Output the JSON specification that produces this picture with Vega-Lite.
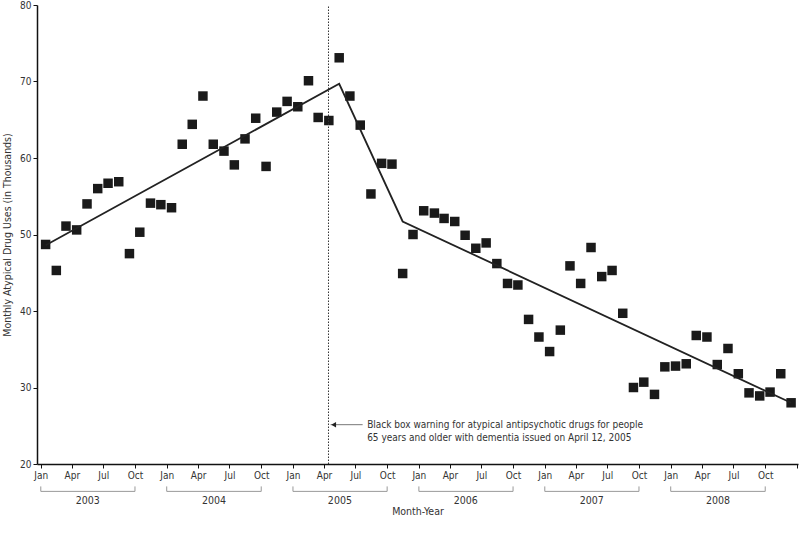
{
  "$schema": "https://vega.github.io/schema/vega-lite/v6.json",
  "autosize": "none",
  "width": 761,
  "height": 459,
  "padding": {"left": 37, "top": 5, "right": 2, "bottom": 70},
  "background": "white",
  "config": {
    "view": {"stroke": null},
    "font": "DejaVu Sans Condensed, sans-serif",
    "axis": {
      "labelFont": "DejaVu Sans Condensed, sans-serif",
      "titleFont": "DejaVu Sans Condensed, sans-serif",
      "labelFontSize": 10,
      "titleFontSize": 10.5,
      "labelColor": "#333",
      "titleColor": "#333",
      "titleFontWeight": "normal",
      "domainColor": "#111",
      "domainWidth": 1.5,
      "tickColor": "#111",
      "tickSize": 4,
      "grid": false
    }
  },
  "datasets": {
    "points": [
      {"date": "2003-01-15", "uses": 48.7}, {"date": "2003-02-15", "uses": 45.3}, {"date": "2003-03-15", "uses": 51.1}, {"date": "2003-04-15", "uses": 50.6},
      {"date": "2003-05-15", "uses": 54.0}, {"date": "2003-06-15", "uses": 56.0}, {"date": "2003-07-15", "uses": 56.7}, {"date": "2003-08-15", "uses": 56.9},
      {"date": "2003-09-15", "uses": 47.5}, {"date": "2003-10-15", "uses": 50.3}, {"date": "2003-11-15", "uses": 54.1}, {"date": "2003-12-15", "uses": 53.9},
      {"date": "2004-01-15", "uses": 53.5}, {"date": "2004-02-15", "uses": 61.8}, {"date": "2004-03-15", "uses": 64.4}, {"date": "2004-04-15", "uses": 68.1},
      {"date": "2004-05-15", "uses": 61.8}, {"date": "2004-06-15", "uses": 60.9}, {"date": "2004-07-15", "uses": 59.1}, {"date": "2004-08-15", "uses": 62.5},
      {"date": "2004-09-15", "uses": 65.2}, {"date": "2004-10-15", "uses": 58.9}, {"date": "2004-11-15", "uses": 66.0}, {"date": "2004-12-15", "uses": 67.4},
      {"date": "2005-01-15", "uses": 66.7}, {"date": "2005-02-15", "uses": 70.1}, {"date": "2005-03-15", "uses": 65.3}, {"date": "2005-04-15", "uses": 64.9},
      {"date": "2005-05-15", "uses": 73.1}, {"date": "2005-06-15", "uses": 68.1}, {"date": "2005-07-15", "uses": 64.3}, {"date": "2005-08-15", "uses": 55.3},
      {"date": "2005-09-15", "uses": 59.3}, {"date": "2005-10-15", "uses": 59.2}, {"date": "2005-11-15", "uses": 44.9}, {"date": "2005-12-15", "uses": 50.0},
      {"date": "2006-01-15", "uses": 53.1}, {"date": "2006-02-15", "uses": 52.8}, {"date": "2006-03-15", "uses": 52.1}, {"date": "2006-04-15", "uses": 51.7},
      {"date": "2006-05-15", "uses": 49.9}, {"date": "2006-06-15", "uses": 48.2}, {"date": "2006-07-15", "uses": 48.9}, {"date": "2006-08-15", "uses": 46.2},
      {"date": "2006-09-15", "uses": 43.6}, {"date": "2006-10-15", "uses": 43.4}, {"date": "2006-11-15", "uses": 38.9}, {"date": "2006-12-15", "uses": 36.6},
      {"date": "2007-01-15", "uses": 34.7}, {"date": "2007-02-15", "uses": 37.5}, {"date": "2007-03-15", "uses": 45.9}, {"date": "2007-04-15", "uses": 43.6},
      {"date": "2007-05-15", "uses": 48.3}, {"date": "2007-06-15", "uses": 44.5}, {"date": "2007-07-15", "uses": 45.3}, {"date": "2007-08-15", "uses": 39.7},
      {"date": "2007-09-15", "uses": 30.0}, {"date": "2007-10-15", "uses": 30.7}, {"date": "2007-11-15", "uses": 29.1}, {"date": "2007-12-15", "uses": 32.7},
      {"date": "2008-01-15", "uses": 32.8}, {"date": "2008-02-15", "uses": 33.1}, {"date": "2008-03-15", "uses": 36.8}, {"date": "2008-04-15", "uses": 36.6},
      {"date": "2008-05-15", "uses": 33.0}, {"date": "2008-06-15", "uses": 35.1}, {"date": "2008-07-15", "uses": 31.8}, {"date": "2008-08-15", "uses": 29.3},
      {"date": "2008-09-15", "uses": 28.9}, {"date": "2008-10-15", "uses": 29.4}, {"date": "2008-11-15", "uses": 31.8}, {"date": "2008-12-15", "uses": 28.0}
    ],
    "trend": [
      {"date": "2003-01-15", "uses": 48.6},
      {"date": "2005-05-15", "uses": 69.7},
      {"date": "2005-11-15", "uses": 51.7},
      {"date": "2008-12-15", "uses": 28.0}
    ],
    "years": [
      {"year": "2003", "date": "2003-01-01", "end": "2003-10-01", "mid": "2003-05-17", "low": 16.42, "high": 17.07, "labely": 15.2},
      {"year": "2004", "date": "2004-01-01", "end": "2004-10-01", "mid": "2004-05-17", "low": 16.42, "high": 17.07, "labely": 15.2},
      {"year": "2005", "date": "2005-01-01", "end": "2005-10-01", "mid": "2005-05-17", "low": 16.42, "high": 17.07, "labely": 15.2},
      {"year": "2006", "date": "2006-01-01", "end": "2006-10-01", "mid": "2006-05-17", "low": 16.42, "high": 17.07, "labely": 15.2},
      {"year": "2007", "date": "2007-01-01", "end": "2007-10-01", "mid": "2007-05-17", "low": 16.42, "high": 17.07, "labely": 15.2},
      {"year": "2008", "date": "2008-01-01", "end": "2008-10-01", "mid": "2008-05-17", "low": 16.42, "high": 17.07, "labely": 15.2}
    ],
    "warning": [
      {"date": "2005-04-14", "ylow": 20, "yhigh": 80, "arrowstart": "2005-07-22", "arrowtip": "2005-04-20", "head": "2005-04-29", "texts": "2005-08-04", "ay": 25.14, "label": "Black box warning for atypical antipsychotic drugs for people\n65 years and older with dementia issued on April 12, 2005"}
    ]
  },
  "layer": [
    {
      "data": {"name": "points"},
      "mark": {"type": "point", "shape": "square", "filled": true, "size": 90, "color": "#1a1a1a", "opacity": 1},
      "encoding": {
        "x": {
          "field": "date", "type": "temporal", "title": "Month-Year",
          "scale": {"domain": [{"year": 2002, "month": 12, "date": 21}, {"year": 2009, "month": 1, "date": 4}], "nice": false},
          "axis": {
            "format": "%b",
            "tickCount": {"interval": "month", "step": 3},
            "labelExpr": "year(datum.value) > 2008 ? '' : datum.label",
            "labelOverlap": false,
            "labelFlush": false,
            "labelPadding": 2,
            "titlePadding": 26
          }
        },
        "y": {
          "field": "uses", "type": "quantitative", "title": "Monthly Atypical Drug Uses (in Thousands)",
          "scale": {"domain": [20, 80], "nice": false, "zero": false},
          "axis": {"values": [20, 30, 40, 50, 60, 70, 80], "labelPadding": 2, "titlePadding": 7}
        }
      }
    },
    {
      "data": {"name": "trend"},
      "mark": {"type": "line", "color": "#222", "strokeWidth": 1.8},
      "encoding": {
        "x": {"field": "date", "type": "temporal"},
        "y": {"field": "uses", "type": "quantitative"}
      }
    },
    {
      "data": {"name": "warning"},
      "mark": {"type": "rule", "color": "#333", "strokeWidth": 1, "strokeDash": [1.5, 1.5]},
      "encoding": {
        "x": {"field": "date", "type": "temporal"},
        "y": {"field": "ylow", "type": "quantitative"},
        "y2": {"field": "yhigh"}
      }
    },
    {
      "data": {"name": "warning"},
      "mark": {"type": "rule", "color": "#555", "strokeWidth": 0.8},
      "encoding": {
        "x": {"field": "arrowstart", "type": "temporal"},
        "x2": {"field": "arrowtip"},
        "y": {"field": "ay", "type": "quantitative"}
      }
    },
    {
      "data": {"name": "warning"},
      "mark": {"type": "point", "shape": "triangle-left", "filled": true, "size": 30, "color": "#222", "opacity": 1},
      "encoding": {
        "x": {"field": "head", "type": "temporal"},
        "y": {"field": "ay", "type": "quantitative"}
      }
    },
    {
      "data": {"name": "warning"},
      "mark": {"type": "text", "align": "left", "baseline": "middle", "fontSize": 10, "lineHeight": 13.3, "color": "#333", "lineBreak": "\n"},
      "encoding": {
        "x": {"field": "texts", "type": "temporal"},
        "y": {"field": "ay", "type": "quantitative"},
        "text": {"field": "label"}
      }
    },
    {
      "data": {"name": "years"},
      "mark": {"type": "rule", "color": "#999", "strokeWidth": 1},
      "encoding": {
        "x": {"field": "date", "type": "temporal"},
        "x2": {"field": "end"},
        "y": {"field": "low", "type": "quantitative"}
      }
    },
    {
      "data": {"name": "years"},
      "mark": {"type": "rule", "color": "#999", "strokeWidth": 1},
      "encoding": {
        "x": {"field": "date", "type": "temporal"},
        "y": {"field": "low", "type": "quantitative"},
        "y2": {"field": "high"}
      }
    },
    {
      "data": {"name": "years"},
      "mark": {"type": "rule", "color": "#999", "strokeWidth": 1},
      "encoding": {
        "x": {"field": "end", "type": "temporal"},
        "y": {"field": "low", "type": "quantitative"},
        "y2": {"field": "high"}
      }
    },
    {
      "data": {"name": "years"},
      "mark": {"type": "text", "align": "center", "baseline": "middle", "fontSize": 10.5, "color": "#333"},
      "encoding": {
        "x": {"field": "mid", "type": "temporal"},
        "y": {"field": "labely", "type": "quantitative"},
        "text": {"field": "year"}
      }
    }
  ]
}
